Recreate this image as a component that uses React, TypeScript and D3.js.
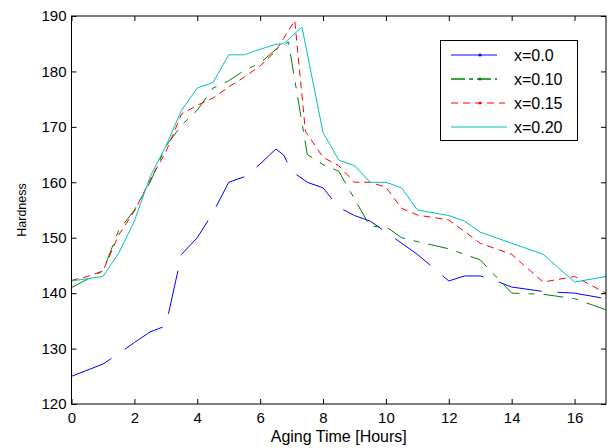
import React, { useRef, useEffect } from "react";
import * as d3 from "d3";

// Hardness vs aging time, four compositions
const xTicks = [0, 2, 4, 6, 8, 10, 12, 14, 16];
const yTicks = [120, 130, 140, 150, 160, 170, 180, 190];

const x00 = [0, 1, 1.5, 2, 2.5, 3, 3.5, 4, 4.5, 5, 5.5, 6, 6.5, 6.75, 7, 7.5, 8, 8.5, 9, 9.5, 10, 10.5, 11, 12, 12.5, 13, 13.5, 14, 15, 16, 17];
const y00 = [125, 127.2, 129.1, 131.1, 133, 134.1, 147, 150, 154.5, 160, 161, 163.3, 166, 164.9, 162, 160, 159, 155.5, 154, 153, 151, 149, 147, 142.2, 143.1, 143.1, 142.2, 141.1, 140.3, 140, 139];

const x10 = [0, 0.5, 1, 1.5, 2, 2.5, 3, 3.5, 4, 4.5, 5, 5.5, 6, 6.5, 6.9, 7.5, 8, 8.5, 9.5, 10, 10.5, 11, 12, 12.5, 13, 14, 15, 16, 17];
const y10 = [141, 142.5, 144, 151.3, 155, 160, 166.5, 170.3, 173, 177, 178.3, 180.2, 181.5, 184, 185.3, 165, 163.2, 162, 152, 152, 150, 149.3, 148, 147, 146, 140, 139.8, 139, 137];

const x15 = [0, 0.5, 1, 1.5, 2, 2.5, 3, 3.5, 4, 4.5, 5, 5.5, 6, 6.5, 7.1, 7.44, 8, 8.5, 9, 9.5, 10, 10.5, 11, 12, 13, 14, 15, 16, 17];
const y15 = [142.3, 143, 144, 150.5, 154.8, 160.4, 165.5, 172.3, 173.9, 175.2, 177.2, 179, 181, 183.7, 189.2, 169.2, 164.5, 163, 160, 160, 159.1, 155.3, 154.1, 153.2, 149, 147, 142, 143, 140];

const x20 = [0, 1, 1.5, 2, 2.5, 3, 3.5, 4, 4.5, 5, 5.5, 6, 6.5, 6.75, 7.33, 8, 8.5, 9, 9.5, 10, 10.5, 11, 12, 12.5, 13, 14, 15, 16, 17];
const y20 = [142.2, 143, 147.2, 153, 161, 166.5, 173, 177, 178, 183, 183, 184, 184.9, 185, 188, 169, 164, 163, 160, 160, 159, 155, 154, 153, 151, 149, 147, 142, 143];

const labels = ["x=0.0", "x=0.10", "x=0.15", "x=0.20"];
const colors = ["#0000ff", "#008000", "#ff0000", "#00bfbf"];
const dashes = ["44,16", "20,9,6,9", "7,5", null];

export default function App() {
  const ref = useRef<SVGSVGElement>(null);

  useEffect(() => {
    const width = 610;
    const height = 448;
    const margin = { top: 16, right: 4, bottom: 44, left: 71.5 };
    const font = "Arial, 'Liberation Sans', sans-serif";

    const svg = d3.select(ref.current);
    svg.selectAll("*").remove();
    svg.attr("width", width).attr("height", height);

    svg.append("rect").attr("width", width).attr("height", height).attr("fill", "#fff");

    const x = d3.scaleLinear().domain([0, 17]).range([margin.left, width - margin.right]);
    const y = d3.scaleLinear().domain([120, 190]).range([height - margin.bottom, margin.top]);

    const series = [
      { xs: x00, ys: y00 },
      { xs: x10, ys: y10 },
      { xs: x15, ys: y15 },
      { xs: x20, ys: y20 }
    ];

    const line = d3
      .line<[number, number]>()
      .x(d => x(d[0]))
      .y(d => y(d[1]));

    const g = svg.append("g");
    series.forEach((s, i) => {
      const pts = s.xs.map((v, j) => [v, s.ys[j]] as [number, number]);
      const p = g
        .append("path")
        .attr("d", line(pts))
        .attr("fill", "none")
        .attr("stroke", colors[i])
        .attr("stroke-width", 1);
      if (dashes[i]) p.attr("stroke-dasharray", dashes[i]);
    });

    // axes, MATLAB style inward ticks
    const styleAxis = (sel: any, showText: boolean) => {
      sel.select(".domain").remove();
      sel.selectAll("line").attr("stroke", "#000");
      sel
        .selectAll("text")
        .style("font-family", font)
        .style("font-size", "15px")
        .attr("fill", "#000");
      if (!showText) sel.selectAll("text").remove();
    };

    svg
      .append("g")
      .attr("transform", `translate(0,${y(120)})`)
      .call(d3.axisBottom(x).tickValues(xTicks).tickSize(-5).tickPadding(8).tickFormat(d3.format("d")))
      .call(s => styleAxis(s, true));

    svg
      .append("g")
      .attr("transform", `translate(0,${y(190)})`)
      .call(d3.axisTop(x).tickValues(xTicks).tickSize(-5))
      .call(s => styleAxis(s, false));

    svg
      .append("g")
      .attr("transform", `translate(${x(0)},0)`)
      .call(d3.axisLeft(y).tickValues(yTicks).tickSize(-5).tickPadding(5))
      .call(s => styleAxis(s, true));

    svg
      .append("g")
      .attr("transform", `translate(${x(17)},0)`)
      .call(d3.axisRight(y).tickValues(yTicks).tickSize(-5))
      .call(s => styleAxis(s, false));

    svg
      .append("rect")
      .attr("x", x(0))
      .attr("y", y(190))
      .attr("width", x(17) - x(0))
      .attr("height", y(120) - y(190))
      .attr("fill", "none")
      .attr("stroke", "#000");

    // axis labels
    svg
      .append("text")
      .attr("x", (x(0) + x(17)) / 2)
      .attr("y", 442)
      .attr("text-anchor", "middle")
      .style("font-family", font)
      .style("font-size", "16px")
      .text("Aging Time [Hours]");

    svg
      .append("text")
      .attr("transform", `translate(26,${(y(120) + y(190)) / 2}) rotate(-90)`)
      .attr("text-anchor", "middle")
      .style("font-family", font)
      .style("font-size", "12.5px")
      .text("Hardness");

    // legend
    const lg = svg.append("g");
    lg.append("rect")
      .attr("x", 440.5)
      .attr("y", 40.5)
      .attr("width", 137)
      .attr("height", 100)
      .attr("fill", "#fff")
      .attr("stroke", "#000");

    labels.forEach((lab, i) => {
      const cy = 55 + i * 24;
      const l = lg
        .append("line")
        .attr("x1", 451)
        .attr("x2", i === 3 ? 507 : i === 2 ? 505 : 497)
        .attr("y1", cy)
        .attr("y2", cy)
        .attr("stroke", colors[i])
        .attr("stroke-width", i === 1 ? 1.5 : 1);
      if (i === 1) l.attr("stroke-dasharray", "14,4,4,4");
      if (i === 2) l.attr("stroke-dasharray", "7,5");
      if (i < 3) {
        lg.append("circle").attr("cx", 480).attr("cy", cy).attr("r", 1.5).attr("fill", colors[i]);
      }
      lg.append("text")
        .attr("x", 514)
        .attr("y", cy + 5.5)
        .style("font-family", font)
        .style("font-size", "16px")
        .text(lab);
    });
  }, []);

  return (
    <div style={{ position: "fixed", left: 0, top: 0 }}>
      <svg ref={ref} style={{ display: "block" }}></svg>
    </div>
  );
}
